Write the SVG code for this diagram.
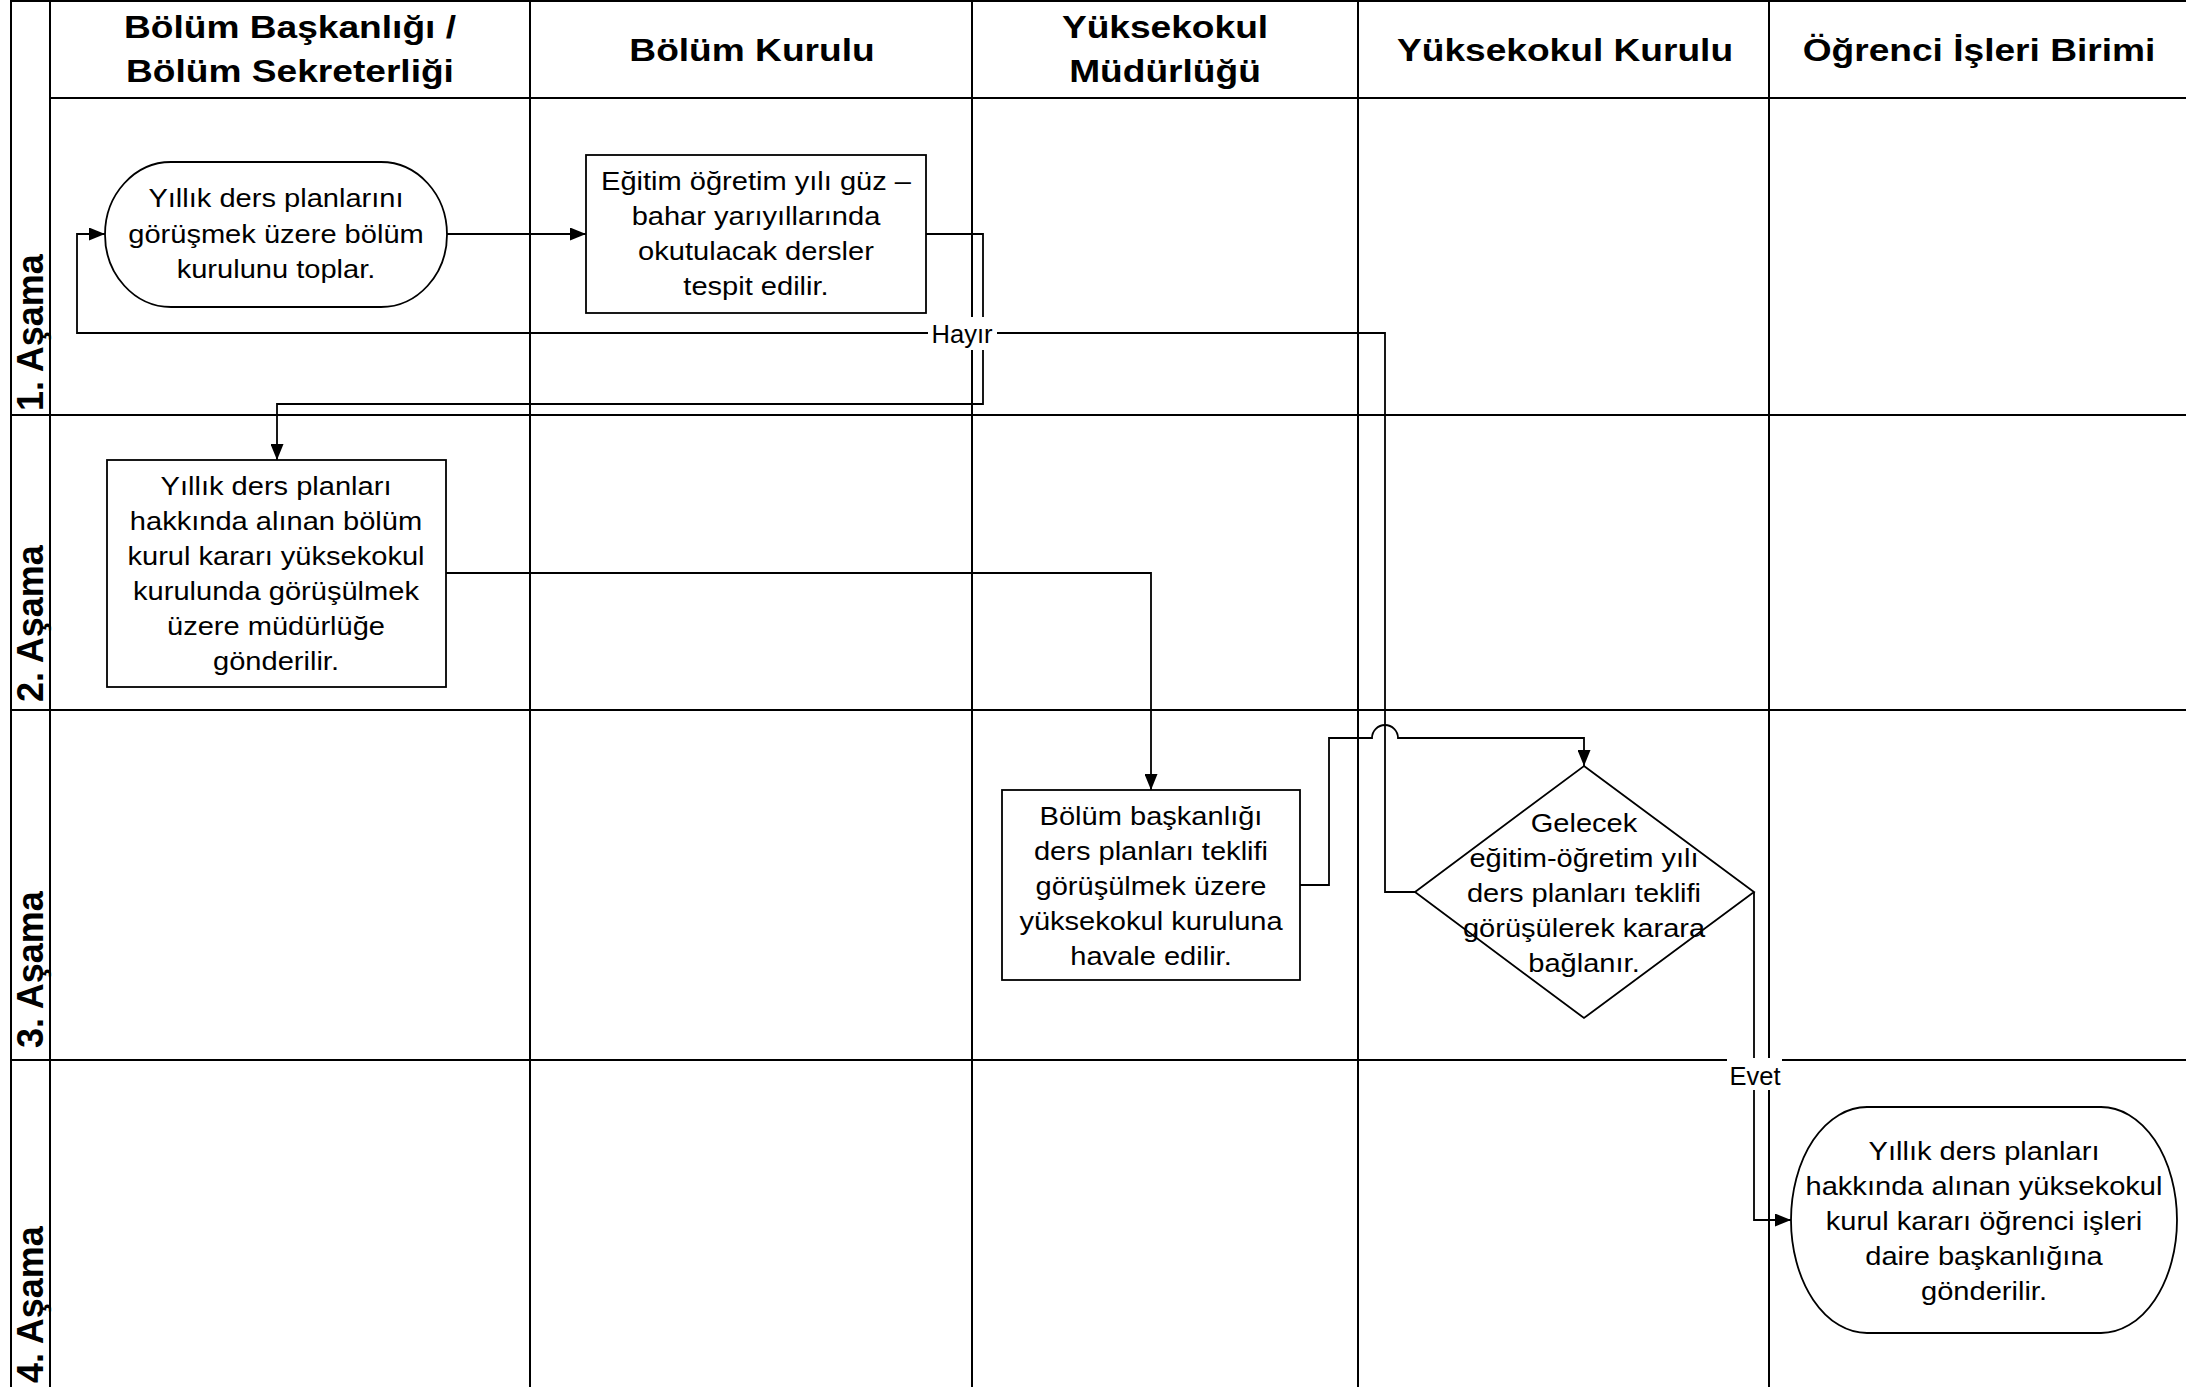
<svg xmlns="http://www.w3.org/2000/svg" width="2186" height="1387" viewBox="0 0 2186 1387">
<defs>
<style>
.grid{stroke:#000;stroke-width:2;fill:none}
.con{stroke:#000;stroke-width:1.8;fill:none}
.shape{fill:#fff;stroke:#000;stroke-width:1.8}
.hd{font-family:"Liberation Sans",Arial,sans-serif;font-weight:bold;font-size:32px;text-anchor:middle;fill:#000}
.st{font-family:"Liberation Sans",Arial,sans-serif;font-weight:bold;font-size:36px;fill:#000}
.t{font-family:"Liberation Sans",Arial,sans-serif;font-size:25.5px;text-anchor:middle;fill:#000}
.lb{font-family:"Liberation Sans",Arial,sans-serif;font-size:25.5px;text-anchor:middle;fill:#000}
</style>
<marker id="arr" viewBox="0 0 16 13" refX="16" refY="6.5" markerWidth="16" markerHeight="13" markerUnits="userSpaceOnUse" orient="auto">
<path d="M0,0 L16,6.5 L0,13 z" fill="#000"/>
</marker>
</defs>
<rect width="2186" height="1387" fill="#fff"/>
<g id="grid">
<path class="grid" d="M11,0V1387 M50,0V1387 M530,0V1387 M972,0V1387 M1358,0V1387 M1769,0V1387"/>
<path class="grid" d="M11,1H2186 M50,98H2186 M11,415H2186 M11,710H2186 M11,1060H2186"/>
</g>
<g id="headers">
<text class="hd" transform="translate(290 0) scale(1.16 1)"><tspan x="0" y="38">Bölüm Başkanlığı /</tspan><tspan x="0" y="82">Bölüm Sekreterliği</tspan></text>
<text class="hd" transform="translate(752 0) scale(1.16 1)"><tspan x="0" y="61">Bölüm Kurulu</tspan></text>
<text class="hd" transform="translate(1165 0) scale(1.16 1)"><tspan x="0" y="38">Yüksekokul</tspan><tspan x="0" y="82">Müdürlüğü</tspan></text>
<text class="hd" transform="translate(1565 0) scale(1.16 1)"><tspan x="0" y="61">Yüksekokul Kurulu</tspan></text>
<text class="hd" transform="translate(1979 0) scale(1.16 1)"><tspan x="0" y="61">Öğrenci İşleri Birimi</tspan></text>
</g>
<g id="stages">
<text class="st" transform="translate(42.5 411) rotate(-90)">1. Aşama</text>
<text class="st" transform="translate(42.5 702) rotate(-90)">2. Aşama</text>
<text class="st" transform="translate(42.5 1048) rotate(-90)">3. Aşama</text>
<text class="st" transform="translate(42.5 1383) rotate(-90)">4. Aşama</text>
</g>
<g id="connectors">
<path class="con" d="M447,234H586" marker-end="url(#arr)"/>
<path class="con" d="M926,234H983V404H277V460" marker-end="url(#arr)"/>
<path class="con" d="M1415,892H1385V333H77V234H105" marker-end="url(#arr)"/>
<path class="con" d="M446,573H1151V790" marker-end="url(#arr)"/>
<path class="con" d="M1300,885H1329V738H1372A13,13 0 0 1 1398,738H1584V766" marker-end="url(#arr)"/>
<path class="con" d="M1754,892V1220H1791" marker-end="url(#arr)"/>
</g>
<g id="node1">
<rect class="shape" x="105" y="162" width="342" height="145" rx="66" ry="72.5"/>
<text class="t" transform="translate(276 0) scale(1.14 1)"><tspan x="0" y="207">Yıllık ders planlarını</tspan><tspan x="0" y="243">görüşmek üzere bölüm</tspan><tspan x="0" y="278">kurulunu toplar.</tspan></text>
</g>
<g id="node2">
<rect class="shape" x="586" y="155" width="340" height="158"/>
<text class="t" transform="translate(756 0) scale(1.14 1)"><tspan x="0" y="190">Eğitim öğretim yılı güz –</tspan><tspan x="0" y="225">bahar yarıyıllarında</tspan><tspan x="0" y="260">okutulacak dersler</tspan><tspan x="0" y="295">tespit edilir.</tspan></text>
</g>
<g id="node3">
<rect class="shape" x="107" y="460" width="339" height="227"/>
<text class="t" transform="translate(276 0) scale(1.14 1)"><tspan x="0" y="495">Yıllık ders planları</tspan><tspan x="0" y="530">hakkında alınan bölüm</tspan><tspan x="0" y="565">kurul kararı  yüksekokul</tspan><tspan x="0" y="600">kurulunda görüşülmek</tspan><tspan x="0" y="635">üzere müdürlüğe</tspan><tspan x="0" y="670">gönderilir.</tspan></text>
</g>
<g id="node4">
<rect class="shape" x="1002" y="790" width="298" height="190"/>
<text class="t" transform="translate(1151 0) scale(1.14 1)"><tspan x="0" y="825">Bölüm başkanlığı</tspan><tspan x="0" y="860">ders planları teklifi</tspan><tspan x="0" y="895">görüşülmek üzere</tspan><tspan x="0" y="930">yüksekokul kuruluna</tspan><tspan x="0" y="965">havale edilir.</tspan></text>
</g>
<g id="node5">
<polygon class="shape" points="1584,766 1754,892 1584,1018 1415,892"/>
<text class="t" transform="translate(1584 0) scale(1.14 1)"><tspan x="0" y="832">Gelecek</tspan><tspan x="0" y="867">eğitim-öğretim yılı</tspan><tspan x="0" y="902">ders planları teklifi</tspan><tspan x="0" y="937">görüşülerek karara</tspan><tspan x="0" y="972">bağlanır.</tspan></text>
</g>
<g id="node6">
<rect class="shape" x="1791" y="1107" width="386" height="226" rx="76" ry="113"/>
<text class="t" transform="translate(1984 0) scale(1.14 1)"><tspan x="0" y="1160">Yıllık ders planları</tspan><tspan x="0" y="1195">hakkında alınan yüksekokul</tspan><tspan x="0" y="1230">kurul kararı öğrenci işleri</tspan><tspan x="0" y="1265">daire başkanlığına</tspan><tspan x="0" y="1300">gönderilir.</tspan></text>
</g>
<g id="labels">
<rect x="928" y="317" width="69" height="33" fill="#fff"/>
<text class="lb" x="962" y="343">Hayır</text>
<rect x="1727" y="1058" width="55" height="32" fill="#fff"/>
<text class="lb" x="1755" y="1085">Evet</text>
</g>
</svg>
